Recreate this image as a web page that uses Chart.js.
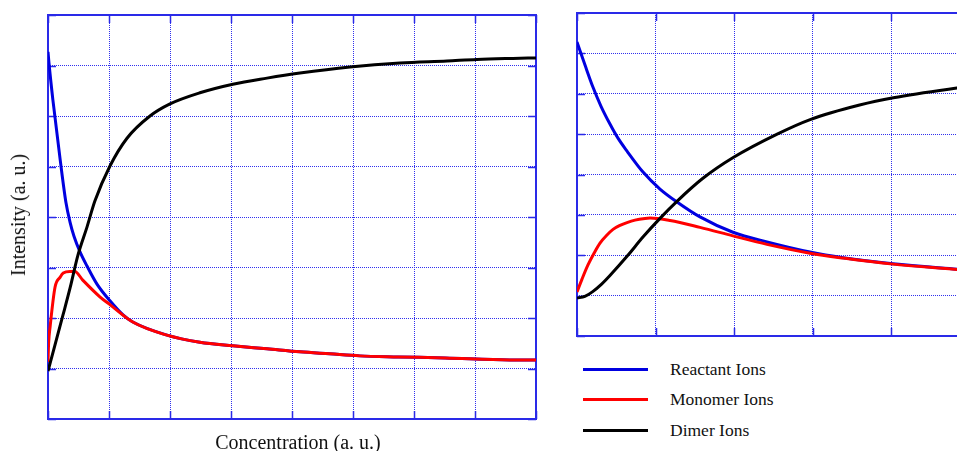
<!DOCTYPE html>
<html>
<head>
<meta charset="utf-8">
<title>Ion intensity vs concentration</title>
<script src="https://cdn.jsdelivr.net/npm/chart.js@4/dist/chart.umd.min.js"></script>
<style>
  html, body { margin: 0; padding: 0; background: #fff; width: 957px; height: 451px; overflow: hidden; }
  canvas { position: absolute; top: 0; }
  #wide { left: 0; }
  #zoom { left: 567px; }
  .axis-title {
    position: absolute; font-family: "Liberation Serif", "Times New Roman", serif;
    font-size: 20px; line-height: 20px; height: 20px; color: #111; white-space: nowrap;
  }
  #yTitle { left: 18px; top: 215px; transform: translate(-50%, -50%) rotate(-90deg); }
  #xTitle { left: 298px; top: 442px; transform: translate(-50%, -50%); }
  #legend { position: absolute; left: 583px; top: 354px; font-family: "Liberation Serif", "Times New Roman", serif; font-size: 17.5px; color: #111; }
  .legend-row { display: flex; align-items: center; height: 30.5px; white-space: nowrap; }
  .legend-line { width: 65px; height: 3px; margin-right: 22px; }
</style>
</head>
<body>
<canvas id="wide" width="545" height="451"></canvas>
<canvas id="zoom" width="413" height="346"></canvas>
<div id="yTitle" class="axis-title">Intensity (a. u.)</div>
<div id="xTitle" class="axis-title">Concentration (a. u.)</div>
<div id="legend"></div>
<script>
// Series names and colours
const seriesNames = ['Reactant Ions', 'Monomer Ions', 'Dimer Ions'];
const seriesColors = ['#0000e0', '#ff0000', '#000000'];

// Full concentration range (grid units on both axes)
const wideReactantX = [0, 0.016, 0.08, 0.2, 0.295, 0.361, 0.426, 0.525, 0.639, 0.803, 1.016, 1.23, 1.39, 1.95, 2.49, 3.03, 3.59, 4.13, 4.62, 5.11, 5.74, 6.51, 7.57, 8];
const wideReactantY = [7.27, 7.05, 6.32, 5.13, 4.28, 3.90, 3.62, 3.31, 3.03, 2.67, 2.34, 2.06, 1.92, 1.66, 1.52, 1.45, 1.39, 1.33, 1.29, 1.25, 1.23, 1.21, 1.17, 1.17];

const wideMonomerX = [0, 0.01, 0.035, 0.115, 0.2, 0.25, 0.36, 0.44, 0.57, 0.85, 1.02, 1.39, 1.95, 2.49, 3.03, 3.59, 4.13, 4.62, 5.11, 5.74, 6.51, 7.57, 8];
const wideMonomerY = [1.13, 1.5, 1.83, 2.61, 2.81, 2.89, 2.92, 2.92, 2.75, 2.42, 2.26, 1.92, 1.66, 1.52, 1.45, 1.39, 1.33, 1.29, 1.25, 1.23, 1.21, 1.17, 1.17];

const wideDimerX = [0, 0.115, 0.246, 0.361, 0.492, 0.639, 0.77, 1.016, 1.295, 1.672, 2.0, 2.49, 3.03, 3.59, 4.13, 4.95, 5.77, 6.54, 7.03, 7.62, 8];
const wideDimerY = [0.95, 1.47, 2.06, 2.59, 3.25, 3.80, 4.32, 5.01, 5.56, 6.00, 6.24, 6.46, 6.63, 6.75, 6.85, 6.97, 7.05, 7.09, 7.12, 7.14, 7.15];

// Low-concentration detail
const zoomReactantX = [0, 0.102, 0.204, 0.306, 0.42, 0.522, 0.637, 0.841, 1.057, 1.274, 1.567, 1.987, 2.42, 2.968, 3.389, 4.025, 4.841, 5];
const zoomReactantY = [7.28, 6.71, 6.16, 5.69, 5.25, 4.90, 4.58, 4.06, 3.64, 3.32, 2.95, 2.57, 2.33, 2.08, 1.94, 1.79, 1.655, 1.63];

const zoomMonomerX = [0, 0.064, 0.14, 0.217, 0.293, 0.382, 0.459, 0.548, 0.637, 0.739, 0.866, 0.93, 1.185, 1.567, 1.987, 2.42, 2.968, 3.389, 4.025, 4.841, 5];
const zoomMonomerY = [1.09, 1.41, 1.76, 2.05, 2.30, 2.50, 2.64, 2.74, 2.81, 2.87, 2.91, 2.92, 2.86, 2.69, 2.48, 2.27, 2.05, 1.93, 1.78, 1.65, 1.62];

const zoomDimerX = [0, 0.1, 0.2, 0.31, 0.42, 0.64, 0.84, 1.06, 1.27, 1.6, 1.99, 2.55, 2.97, 3.6, 4.03, 4.84, 5];
const zoomDimerY = [0.94, 0.98, 1.10, 1.28, 1.50, 1.98, 2.45, 2.92, 3.33, 3.90, 4.42, 5.00, 5.36, 5.72, 5.90, 6.14, 6.18];

const FRAME_COLOR = '#2a2ae8';
const GRID_COLOR = '#3030ee';

function points(xs, ys) {
  return xs.map((x, i) => ({ x: x, y: ys[i] }));
}

// Solid box round the plot area with short inward ticks at every grid step
const framePlugin = {
  id: 'frame',
  beforeDatasetsDraw(chart) {
    const { ctx, chartArea: a, scales } = chart;
    const len = 8;
    ctx.save();
    ctx.strokeStyle = FRAME_COLOR;
    ctx.lineWidth = 2;
    ctx.strokeRect(a.left, a.top, a.right - a.left, a.bottom - a.top);
    ctx.lineWidth = 1.5;
    ctx.beginPath();
    scales.x.ticks.forEach(t => {
      const px = Math.round(scales.x.getPixelForValue(t.value)) + 0.5;
      ctx.moveTo(px, a.top); ctx.lineTo(px, a.top + len);
      ctx.moveTo(px, a.bottom); ctx.lineTo(px, a.bottom - len);
    });
    scales.y.ticks.forEach(t => {
      const py = Math.round(scales.y.getPixelForValue(t.value)) + 0.5;
      ctx.moveTo(a.left, py); ctx.lineTo(a.left + len, py);
      ctx.moveTo(a.right, py); ctx.lineTo(a.right - len, py);
    });
    ctx.stroke();
    ctx.restore();
  }
};

function axis(max) {
  return {
    type: 'linear', min: 0, max: max,
    ticks: { display: false, stepSize: 1 },
    grid: { color: GRID_COLOR, lineWidth: 1, drawTicks: false },
    border: { display: false, dash: [1, 1] }
  };
}

function makeChart(id, xMax, series, padding) {
  return new Chart(document.getElementById(id), {
    type: 'line',
    data: {
      datasets: series.map((s, i) => ({
        label: seriesNames[i],
        data: points(s[0], s[1]),
        borderColor: seriesColors[i],
        backgroundColor: seriesColors[i],
        borderWidth: 3,
        pointRadius: 0,
        cubicInterpolationMode: 'monotone',
        fill: false,
        order: 3 - i
      }))
    },
    options: {
      responsive: false,
      animation: false,
      devicePixelRatio: 1,
      layout: { padding: padding },
      scales: { x: axis(xMax), y: axis(8) },
      plugins: { legend: { display: false }, tooltip: { enabled: false } }
    },
    plugins: [framePlugin]
  });
}

const wideChart = makeChart('wide', 8, [
  [wideReactantX, wideReactantY],
  [wideMonomerX, wideMonomerY],
  [wideDimerX, wideDimerY]
], { left: 48, top: 15, right: 9, bottom: 32 });

const zoomChart = makeChart('zoom', 5, [
  [zoomReactantX, zoomReactantY],
  [zoomMonomerX, zoomMonomerY],
  [zoomDimerX, zoomDimerY]
], { left: 10, top: 13, right: 10.5, bottom: 10 });

// Legend listing the series of the detail plot
const legend = document.getElementById('legend');
zoomChart.data.datasets.forEach(ds => {
  const row = document.createElement('div');
  row.className = 'legend-row';
  const line = document.createElement('span');
  line.className = 'legend-line';
  line.style.background = ds.borderColor;
  const label = document.createElement('span');
  label.textContent = ds.label;
  row.appendChild(line);
  row.appendChild(label);
  legend.appendChild(row);
});
</script>
</body>
</html>
